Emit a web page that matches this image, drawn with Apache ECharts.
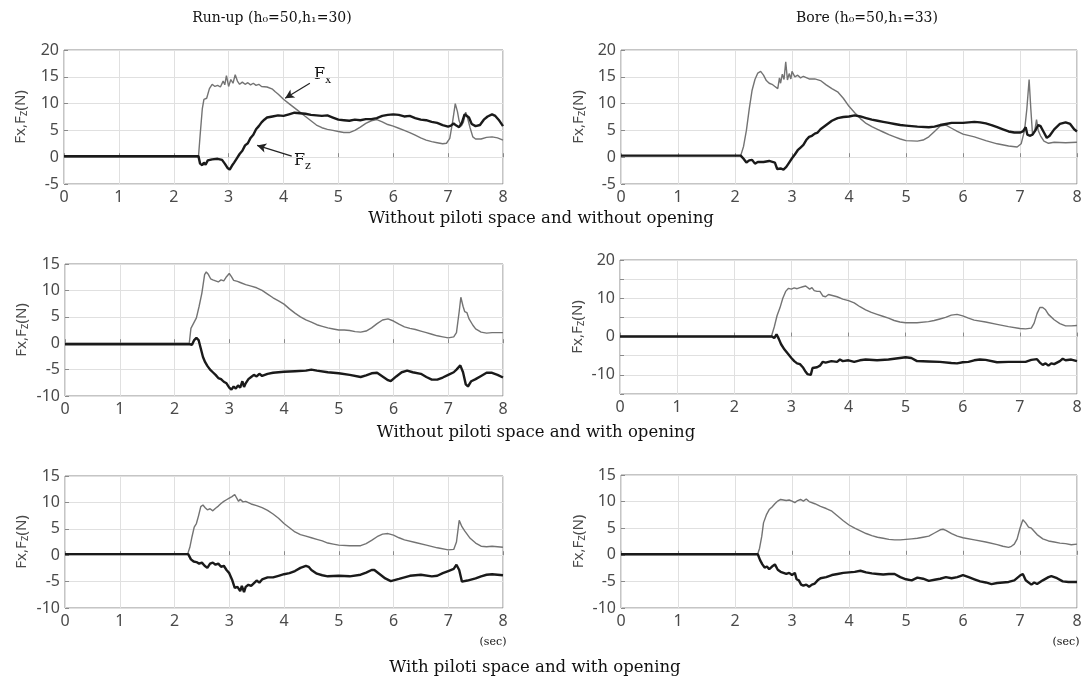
<!DOCTYPE html>
<html><head><meta charset="utf-8">
<script src="https://cdn.jsdelivr.net/npm/echarts@6/dist/echarts.min.js"></script>
<style>html,body{margin:0;padding:0;background:#fff}#c{width:1085px;height:678px}</style>
</head><body><div id="c"></div>
<script>
// ---- data: [time (s), force (N)] ----
const xTicks = [0,1,2,3,4,5,6,7,8];
const panelTitles = ['Run-up (h₀=50,h₁=30)', 'Bore (h₀=50,h₁=33)'];
const rowCaptions = ['Without piloti space and without opening','Without piloti space and with opening','With piloti space and with opening'];
const yRanges = [[-5,20],[-5,20],[-10,15],[-15,20],[-10,15],[-10,15]];

const p1Fx = [[0,0],[2.45,0],[2.48,4],[2.52,9],[2.55,10.8],[2.6,11],[2.65,12.8],[2.7,13.6],[2.75,13.2],[2.8,13.4],[2.85,13.1],[2.9,14.2],[2.93,13.5],[2.96,15.2],[3.0,13.2],[3.04,14.5],[3.08,13.8],[3.12,15.4],[3.16,14.2],[3.2,13.6],[3.25,14.0],[3.3,13.6],[3.35,13.9],[3.4,13.5],[3.45,13.8],[3.5,13.4],[3.55,13.6],[3.6,13.2],[3.7,13.1],[3.8,12.7],[3.85,12.2],[3.9,11.8],[4.0,10.8],[4.1,10.0],[4.2,9.2],[4.3,8.4],[4.4,7.6],[4.5,6.8],[4.6,6.0],[4.7,5.5],[4.8,5.2],[4.9,5.0],[5.0,4.8],[5.1,4.6],[5.2,4.6],[5.3,5.0],[5.4,5.6],[5.5,6.3],[5.6,6.8],[5.7,7.0],[5.8,6.6],[5.9,6.1],[6.0,5.8],[6.1,5.4],[6.2,5.0],[6.3,4.6],[6.4,4.1],[6.5,3.6],[6.6,3.2],[6.7,2.9],[6.8,2.7],[6.9,2.5],[6.97,2.6],[7.03,3.5],[7.08,6.5],[7.13,10],[7.17,8.5],[7.2,6.8],[7.24,5.8],[7.28,6.6],[7.32,8.4],[7.35,7.5],[7.4,5.5],[7.45,3.8],[7.5,3.4],[7.6,3.4],[7.7,3.7],[7.8,3.8],[7.9,3.6],[8.0,3.2]];
const p1Fz = [[0,0.2],[2.45,0.2],[2.48,-1.2],[2.52,-1.5],[2.55,-1.0],[2.58,-1.4],[2.62,-0.6],[2.7,-0.4],[2.8,-0.3],[2.88,-0.5],[2.93,-1.2],[2.98,-2.0],[3.02,-2.3],[3.06,-1.6],[3.1,-1.0],[3.15,-0.2],[3.2,0.6],[3.25,1.2],[3.3,2.2],[3.35,2.6],[3.4,3.6],[3.45,4.2],[3.5,5.2],[3.55,5.8],[3.6,6.5],[3.65,7.0],[3.7,7.4],[3.8,7.6],[3.9,7.8],[4.0,7.7],[4.1,8.0],[4.2,8.3],[4.3,8.2],[4.4,8.1],[4.5,7.9],[4.6,7.8],[4.7,7.7],[4.8,7.8],[4.9,7.4],[5.0,7.0],[5.1,6.9],[5.2,6.8],[5.3,7.0],[5.4,6.9],[5.5,7.1],[5.6,7.1],[5.7,7.3],[5.8,7.7],[5.9,7.9],[6.0,8.0],[6.1,7.9],[6.2,7.6],[6.3,7.7],[6.4,7.3],[6.5,7.0],[6.6,6.9],[6.7,6.6],[6.8,6.4],[6.9,6.0],[7.0,5.7],[7.05,5.9],[7.1,6.3],[7.15,5.9],[7.2,5.6],[7.25,6.4],[7.3,8.0],[7.33,8.3],[7.38,7.4],[7.43,6.2],[7.5,5.8],[7.58,6.0],[7.65,7.0],[7.72,7.6],[7.8,8.0],[7.86,7.7],[7.92,7.0],[8.0,5.8]];

const p2Fx = [[0,0.3],[2.1,0.3],[2.15,2],[2.2,5],[2.25,9],[2.3,12.5],[2.35,14.5],[2.4,15.7],[2.45,16.0],[2.5,15.3],[2.55,14.3],[2.6,13.8],[2.65,13.6],[2.7,13.2],[2.75,12.8],[2.78,14.8],[2.8,13.8],[2.83,15.5],[2.86,14.5],[2.89,17.8],[2.92,14.4],[2.95,15.6],[2.98,14.6],[3.0,16.0],[3.05,15.0],[3.1,15.3],[3.15,14.8],[3.2,15.1],[3.3,14.6],[3.4,14.6],[3.5,14.3],[3.6,13.5],[3.7,12.8],[3.8,12.2],[3.9,11.0],[4.0,9.5],[4.1,8.3],[4.2,7.2],[4.3,6.3],[4.4,5.7],[4.5,5.2],[4.6,4.7],[4.7,4.2],[4.8,3.8],[4.9,3.4],[5.0,3.1],[5.2,3.0],[5.3,3.2],[5.4,3.8],[5.5,4.8],[5.6,5.8],[5.7,6.0],[5.8,5.4],[5.9,4.8],[6.0,4.3],[6.2,3.8],[6.4,3.1],[6.6,2.5],[6.8,2.1],[6.95,1.9],[7.02,2.5],[7.08,5.0],[7.12,9],[7.16,14.5],[7.19,9],[7.22,4.2],[7.26,5.0],[7.29,7.0],[7.32,5.0],[7.36,4.0],[7.42,3.0],[7.5,2.6],[7.6,2.8],[7.8,2.7],[8.0,2.8]];
const p2Fz = [[0,0.3],[2.1,0.3],[2.15,-0.3],[2.2,-1.0],[2.25,-0.6],[2.3,-0.5],[2.35,-1.2],[2.4,-0.9],[2.5,-0.9],[2.6,-0.7],[2.7,-1.0],[2.74,-2.2],[2.8,-2.1],[2.85,-2.3],[2.9,-1.8],[2.95,-1.0],[3.0,-0.2],[3.05,0.5],[3.1,1.3],[3.15,1.8],[3.2,2.3],[3.25,3.2],[3.3,3.8],[3.35,4.0],[3.4,4.4],[3.45,4.6],[3.5,5.2],[3.6,6.0],[3.7,6.8],[3.8,7.3],[3.9,7.5],[4.0,7.6],[4.1,7.8],[4.2,7.6],[4.3,7.3],[4.4,7.0],[4.5,6.8],[4.6,6.6],[4.7,6.4],[4.8,6.2],[4.9,6.0],[5.0,5.9],[5.2,5.7],[5.4,5.6],[5.5,5.7],[5.6,6.0],[5.7,6.2],[5.8,6.4],[6.0,6.4],[6.1,6.5],[6.2,6.6],[6.3,6.5],[6.4,6.3],[6.5,6.0],[6.6,5.6],[6.7,5.2],[6.8,4.8],[6.9,4.6],[7.0,4.6],[7.05,4.8],[7.1,5.6],[7.13,4.2],[7.17,4.0],[7.22,4.2],[7.27,5.0],[7.32,6.0],[7.36,5.8],[7.42,4.6],[7.47,3.6],[7.52,4.0],[7.6,5.2],[7.7,6.2],[7.8,6.5],[7.88,6.2],[7.95,5.2],[8.0,4.8]];

const p3Fx = [[0,0],[2.27,0],[2.3,2.8],[2.35,3.8],[2.4,4.8],[2.45,7],[2.5,9.5],[2.55,13],[2.58,13.5],[2.62,13.0],[2.66,12.2],[2.7,12.0],[2.75,11.8],[2.8,11.6],[2.85,12.0],[2.9,11.8],[2.95,12.6],[3.0,13.2],[3.04,12.6],[3.08,11.9],[3.15,11.7],[3.2,11.5],[3.3,11.1],[3.4,10.8],[3.5,10.5],[3.6,10.0],[3.7,9.3],[3.8,8.6],[3.9,8.0],[4.0,7.4],[4.1,6.5],[4.2,5.7],[4.3,5.0],[4.4,4.4],[4.5,4.0],[4.6,3.5],[4.7,3.2],[4.8,2.9],[4.9,2.7],[5.0,2.5],[5.1,2.5],[5.2,2.4],[5.3,2.2],[5.4,2.1],[5.5,2.3],[5.6,2.9],[5.7,3.7],[5.8,4.4],[5.9,4.6],[6.0,4.2],[6.1,3.6],[6.2,3.1],[6.3,2.8],[6.4,2.6],[6.5,2.3],[6.6,2.0],[6.7,1.7],[6.8,1.4],[6.9,1.2],[7.0,1.0],[7.1,1.2],[7.15,2.0],[7.2,6.0],[7.23,8.7],[7.27,7.0],[7.3,6.0],[7.34,5.8],[7.38,4.6],[7.45,3.4],[7.5,2.7],[7.6,2.1],[7.7,1.9],[7.8,2.0],[8.0,2.0]];
const p3Fz = [[0,-0.2],[2.28,-0.2],[2.32,-0.3],[2.36,0.6],[2.4,1.0],[2.44,0.6],[2.48,-1.0],[2.52,-2.6],[2.56,-3.6],[2.6,-4.3],[2.65,-5.0],[2.7,-5.5],[2.75,-6.0],[2.8,-6.6],[2.85,-6.8],[2.9,-7.3],[2.95,-7.6],[3.0,-8.4],[3.04,-8.8],[3.08,-8.2],[3.12,-8.6],[3.16,-8.0],[3.2,-8.4],[3.24,-7.2],[3.27,-8.3],[3.3,-7.6],[3.35,-6.8],[3.4,-6.4],[3.45,-6.0],[3.5,-6.3],[3.55,-5.8],[3.6,-6.2],[3.7,-5.8],[3.8,-5.6],[3.9,-5.5],[4.0,-5.4],[4.2,-5.3],[4.4,-5.2],[4.5,-5.0],[4.6,-5.2],[4.8,-5.5],[5.0,-5.7],[5.2,-6.0],[5.4,-6.4],[5.5,-6.1],[5.6,-5.7],[5.7,-5.6],[5.8,-6.3],[5.9,-7.0],[5.95,-7.2],[6.05,-6.3],[6.15,-5.5],[6.25,-5.2],[6.35,-5.5],[6.5,-5.8],[6.6,-6.4],[6.7,-6.9],[6.8,-6.9],[6.9,-6.5],[7.0,-6.0],[7.1,-5.5],[7.15,-5.0],[7.22,-4.2],[7.27,-5.5],[7.32,-7.8],[7.36,-8.2],[7.42,-7.2],[7.5,-6.8],[7.6,-6.2],[7.7,-5.6],[7.8,-5.6],[7.9,-6.0],[8.0,-6.5]];

const p4Fx = [[0,0],[2.65,0],[2.7,2.5],[2.75,5.5],[2.8,7.5],[2.85,10],[2.9,11.8],[2.95,12.6],[3.0,12.4],[3.05,12.7],[3.1,12.5],[3.15,12.8],[3.2,13.0],[3.25,13.2],[3.28,13.6],[3.32,12.4],[3.36,12.8],[3.4,12.0],[3.45,11.8],[3.5,11.8],[3.55,10.6],[3.6,10.4],[3.65,11.0],[3.7,10.8],[3.8,10.4],[3.9,9.8],[4.0,9.4],[4.1,8.8],[4.2,7.8],[4.3,7.0],[4.4,6.3],[4.5,5.8],[4.6,5.3],[4.7,4.8],[4.8,4.2],[4.9,3.8],[5.0,3.6],[5.2,3.6],[5.4,3.9],[5.5,4.2],[5.6,4.6],[5.7,5.0],[5.8,5.6],[5.9,5.8],[6.0,5.4],[6.1,4.8],[6.2,4.3],[6.4,3.8],[6.6,3.2],[6.8,2.6],[7.0,2.1],[7.1,2.0],[7.2,2.2],[7.25,3.5],[7.3,6.0],[7.35,7.6],[7.4,7.6],[7.45,7.0],[7.5,5.8],[7.6,4.4],[7.7,3.4],[7.8,2.8],[7.9,2.8],[8.0,2.9]];
const p4Fz = [[0,0],[2.66,0],[2.7,-0.4],[2.74,0.6],[2.78,-0.6],[2.82,-2.0],[2.88,-3.4],[2.94,-4.5],[3.0,-5.6],[3.05,-6.4],[3.1,-7.0],[3.15,-7.2],[3.2,-8.0],[3.25,-9.2],[3.28,-9.8],[3.31,-9.5],[3.34,-10.0],[3.37,-8.2],[3.4,-7.8],[3.45,-8.0],[3.5,-7.6],[3.55,-6.6],[3.6,-6.8],[3.7,-6.4],[3.8,-6.6],[3.85,-6.0],[3.9,-6.4],[4.0,-6.2],[4.1,-6.6],[4.2,-6.2],[4.3,-6.0],[4.5,-6.2],[4.7,-6.0],[4.9,-5.6],[5.0,-5.4],[5.1,-5.6],[5.2,-6.4],[5.4,-6.5],[5.6,-6.6],[5.8,-6.9],[5.9,-7.0],[6.0,-6.7],[6.1,-6.6],[6.2,-6.2],[6.3,-6.0],[6.4,-6.1],[6.6,-6.7],[6.8,-6.6],[7.0,-6.6],[7.1,-6.6],[7.2,-6.1],[7.3,-5.9],[7.35,-6.8],[7.4,-7.4],[7.45,-7.0],[7.5,-7.6],[7.55,-7.0],[7.6,-7.2],[7.7,-6.4],[7.75,-5.8],[7.8,-6.2],[7.9,-6.0],[8.0,-6.4]];

const p5Fx = [[0,0.2],[2.24,0.2],[2.28,1.5],[2.32,3.5],[2.36,5.3],[2.4,6.0],[2.44,7.5],[2.48,9.2],[2.52,9.5],[2.56,9.0],[2.6,8.6],[2.65,8.8],[2.7,8.4],[2.75,8.9],[2.8,9.3],[2.85,9.8],[2.9,10.2],[2.95,10.5],[3.0,10.8],[3.05,11.1],[3.1,11.5],[3.13,11.2],[3.17,10.2],[3.2,10.6],[3.25,10.1],[3.3,10.2],[3.4,9.7],[3.5,9.4],[3.6,9.0],[3.7,8.5],[3.8,7.8],[3.9,7.0],[4.0,6.0],[4.1,5.2],[4.2,4.4],[4.3,3.9],[4.4,3.6],[4.5,3.3],[4.6,3.0],[4.7,2.7],[4.8,2.3],[4.9,2.1],[5.0,1.9],[5.2,1.8],[5.4,1.8],[5.5,2.2],[5.6,2.8],[5.7,3.5],[5.8,4.0],[5.9,4.1],[6.0,3.8],[6.1,3.3],[6.2,2.9],[6.4,2.4],[6.6,1.9],[6.8,1.4],[7.0,1.0],[7.1,1.1],[7.15,2.5],[7.2,6.6],[7.25,5.4],[7.3,4.6],[7.4,3.2],[7.5,2.3],[7.6,1.7],[7.7,1.6],[7.8,1.7],[7.9,1.6],[8.0,1.5]];
const p5Fz = [[0,0.2],[2.25,0.2],[2.3,-0.8],[2.35,-1.2],[2.4,-1.3],[2.45,-1.6],[2.5,-1.4],[2.55,-2.0],[2.6,-2.4],[2.65,-1.6],[2.7,-1.4],[2.75,-1.8],[2.8,-1.6],[2.85,-2.2],[2.9,-2.0],[2.95,-2.8],[3.0,-3.4],[3.05,-4.6],[3.1,-6.2],[3.15,-6.0],[3.2,-6.8],[3.23,-5.8],[3.27,-7.0],[3.3,-6.0],[3.35,-5.6],[3.4,-5.8],[3.5,-4.8],[3.55,-5.2],[3.6,-4.6],[3.7,-4.2],[3.8,-4.2],[3.9,-3.9],[4.0,-3.6],[4.1,-3.4],[4.2,-3.0],[4.3,-2.4],[4.4,-2.0],[4.45,-2.2],[4.5,-2.8],[4.6,-3.5],[4.7,-3.8],[4.8,-4.0],[5.0,-3.9],[5.2,-4.0],[5.4,-3.7],[5.5,-3.3],[5.6,-2.8],[5.65,-2.8],[5.75,-3.6],[5.85,-4.4],[5.95,-4.9],[6.1,-4.5],[6.3,-3.9],[6.5,-3.7],[6.7,-4.0],[6.8,-3.9],[6.9,-3.4],[7.0,-3.0],[7.1,-2.6],[7.15,-1.8],[7.2,-2.8],[7.25,-5.0],[7.35,-4.8],[7.5,-4.4],[7.6,-4.0],[7.7,-3.7],[7.8,-3.6],[7.9,-3.7],[8.0,-3.8]];

const p6Fx = [[0,0.2],[2.4,0.2],[2.43,1.2],[2.47,3.5],[2.5,6.0],[2.55,7.5],[2.6,8.5],[2.65,9.0],[2.7,9.6],[2.75,10.1],[2.8,10.4],[2.9,10.2],[2.95,10.3],[3.0,10.1],[3.05,9.8],[3.1,10.2],[3.15,10.4],[3.2,10.1],[3.25,10.5],[3.3,10.0],[3.4,9.6],[3.5,9.1],[3.6,8.7],[3.7,8.2],[3.8,7.3],[3.9,6.4],[4.0,5.6],[4.1,5.0],[4.2,4.5],[4.3,4.0],[4.4,3.6],[4.5,3.3],[4.6,3.1],[4.7,2.9],[4.8,2.8],[4.9,2.8],[5.0,2.9],[5.1,3.0],[5.2,3.1],[5.3,3.3],[5.4,3.5],[5.5,4.1],[5.6,4.7],[5.65,4.8],[5.7,4.6],[5.8,4.0],[5.9,3.5],[6.0,3.2],[6.2,2.8],[6.4,2.4],[6.6,1.9],[6.7,1.6],[6.8,1.4],[6.85,1.6],[6.9,2.0],[6.95,3.0],[7.0,5.0],[7.05,6.6],[7.1,6.0],[7.15,5.2],[7.2,5.0],[7.3,3.8],[7.4,3.0],[7.5,2.6],[7.6,2.4],[7.7,2.2],[7.8,2.1],[7.9,1.9],[8.0,2.0]];
const p6Fz = [[0,0.1],[2.4,0.1],[2.44,-1.0],[2.48,-1.8],[2.52,-2.4],[2.56,-2.2],[2.6,-2.7],[2.65,-2.2],[2.7,-1.8],[2.75,-2.8],[2.8,-3.2],[2.85,-3.4],[2.9,-3.6],[2.95,-3.4],[3.0,-3.8],[3.05,-3.4],[3.08,-4.6],[3.12,-4.8],[3.16,-5.6],[3.2,-5.8],[3.25,-5.6],[3.3,-6.0],[3.35,-5.6],[3.4,-5.4],[3.45,-4.8],[3.5,-4.4],[3.6,-4.2],[3.7,-3.8],[3.8,-3.6],[3.9,-3.4],[4.0,-3.3],[4.1,-3.2],[4.2,-3.0],[4.3,-3.3],[4.4,-3.5],[4.5,-3.6],[4.6,-3.7],[4.7,-3.6],[4.8,-3.6],[4.9,-4.2],[5.0,-4.6],[5.1,-4.8],[5.2,-4.3],[5.3,-4.5],[5.4,-4.9],[5.5,-4.7],[5.6,-4.5],[5.7,-4.2],[5.8,-4.4],[5.9,-4.2],[6.0,-3.8],[6.1,-4.2],[6.2,-4.6],[6.3,-5.0],[6.4,-5.2],[6.5,-5.5],[6.6,-5.3],[6.7,-5.2],[6.8,-5.1],[6.9,-4.8],[7.0,-3.9],[7.05,-3.6],[7.1,-4.8],[7.2,-5.6],[7.25,-5.2],[7.3,-5.5],[7.4,-4.8],[7.5,-4.2],[7.55,-4.0],[7.65,-4.4],[7.75,-5.0],[7.85,-5.1],[8.0,-5.1]];

const FxSets = [p1Fx,p2Fx,p3Fx,p4Fx,p5Fx,p6Fx];
const FzSets = [p1Fz,p2Fz,p3Fz,p4Fz,p5Fz,p6Fz];
// arrow annotations (panel 1), in data units
const arrowFx = [[4.48,13.8],[4.03,11.0]];
const arrowFz = [[4.15,0.2],[3.52,2.2]];

// ---- layout ----
const grids = [
  {left:64, top:50, width:439, height:134},
  {left:621, top:50, width:456, height:134},
  {left:65, top:264, width:438, height:132},
  {left:620, top:260, width:457, height:134},
  {left:65, top:476, width:438, height:132},
  {left:621, top:475, width:456, height:133}
];
const SANS = "'Noto Sans', 'Open Sans', sans-serif";
const SERIF = "'DejaVu Serif', 'Liberation Serif', serif";

const option = {
  backgroundColor:'#fff',
  animation:false,
  grid: grids.map(g => Object.assign({show:true, borderColor:'#8a8a8a', borderWidth:1, containLabel:false}, g)),
  xAxis: grids.map((g,i) => ({
    type:'value', gridIndex:i, min:0, max:8, interval:1,
    axisLine:{show:false},
    axisTick:{show:true, inside:true, length:4, lineStyle:{color:'#8a8a8a'}},
    axisLabel:{fontFamily:SANS, fontSize:16, color:'#4a4a4a', margin:5,
      formatter: v => xTicks.indexOf(v) >= 0 ? String(v) : ''},
    splitLine:{show:true, lineStyle:{color:'#e0e0e0', width:1}}
  })),
  yAxis: grids.map((g,i) => ({
    type:'value', gridIndex:i, min:yRanges[i][0], max:yRanges[i][1],
    interval:5,
    axisLine:{show:false},
    axisTick:{show:true, inside:true, length:4, lineStyle:{color:'#8a8a8a'}},
    axisLabel:{fontFamily:SANS, fontSize:16, color:'#4a4a4a', margin:5,
      formatter: v => (i === 3 && v % 10 !== 0) ? '' : String(v)},
    splitLine:{show:true, lineStyle:{color:'#e0e0e0', width:1}},
    name:'{a|Fx,F}{b|z}{a|(N)}', nameLocation:'middle', nameGap:(i%2===0)?34:33, nameRotate:90,
    nameTextStyle:{rich:{
      a:{fontFamily:SANS, fontSize:15, color:'#4a4a4a', lineHeight:18, verticalAlign:'middle'},
      b:{fontFamily:SANS, fontSize:12, color:'#4a4a4a', lineHeight:18, verticalAlign:'bottom'}
    }}
  })),
  series: []
};

for (let i = 0; i < 6; i++) {
  option.series.push({
    type:'line', xAxisIndex:i, yAxisIndex:i, data:FxSets[i], showSymbol:false, symbol:'none',
    lineStyle:{color:'#737373', width:1.4}, z:2, silent:true
  });
  const fz = {
    type:'line', xAxisIndex:i, yAxisIndex:i, data:FzSets[i], showSymbol:false, symbol:'none',
    lineStyle:{color:'#1a1a1a', width:2.4}, z:3, silent:true
  };
  if (i === 0) {
    fz.markLine = {
      silent:true, symbol:['none','arrow'], symbolSize:[7,9],
      lineStyle:{color:'#222', width:1.2, type:'solid'}, label:{show:false},
      data:[
        [{coord:arrowFx[0]},{coord:arrowFx[1]}],
        [{coord:arrowFz[0]},{coord:arrowFz[1]}]
      ]
    };
  }
  option.series.push(fz);
}

const txt = (x,y,text,size,align,extra) => ({type:'text', silent:true, style:Object.assign({x:x, y:y, text:text, font: size+'px '+SERIF, fill:'#111', textAlign:align||'left', textVerticalAlign:'middle'}, extra||{})});
option.graphic = [
  txt(272,18,panelTitles[0],14,'center'),
  txt(867,18,panelTitles[1],14,'center'),
  txt(541,219,rowCaptions[0],16.5,'center'),
  txt(536,433,rowCaptions[1],16.5,'center'),
  txt(535,668,rowCaptions[2],16.5,'center'),
  txt(493,642,'(sec)',11,'center'),
  txt(1066,642,'(sec)',11,'center'),
  txt(314,75,'F',16,'left'),
  txt(325,80,'x',11,'left'),
  txt(294,161,'F',16,'left'),
  txt(305,166,'z',11,'left')
];

const chart = echarts.init(document.getElementById('c'), null, {renderer:'canvas'});
chart.setOption(option);
</script>
</body></html>
